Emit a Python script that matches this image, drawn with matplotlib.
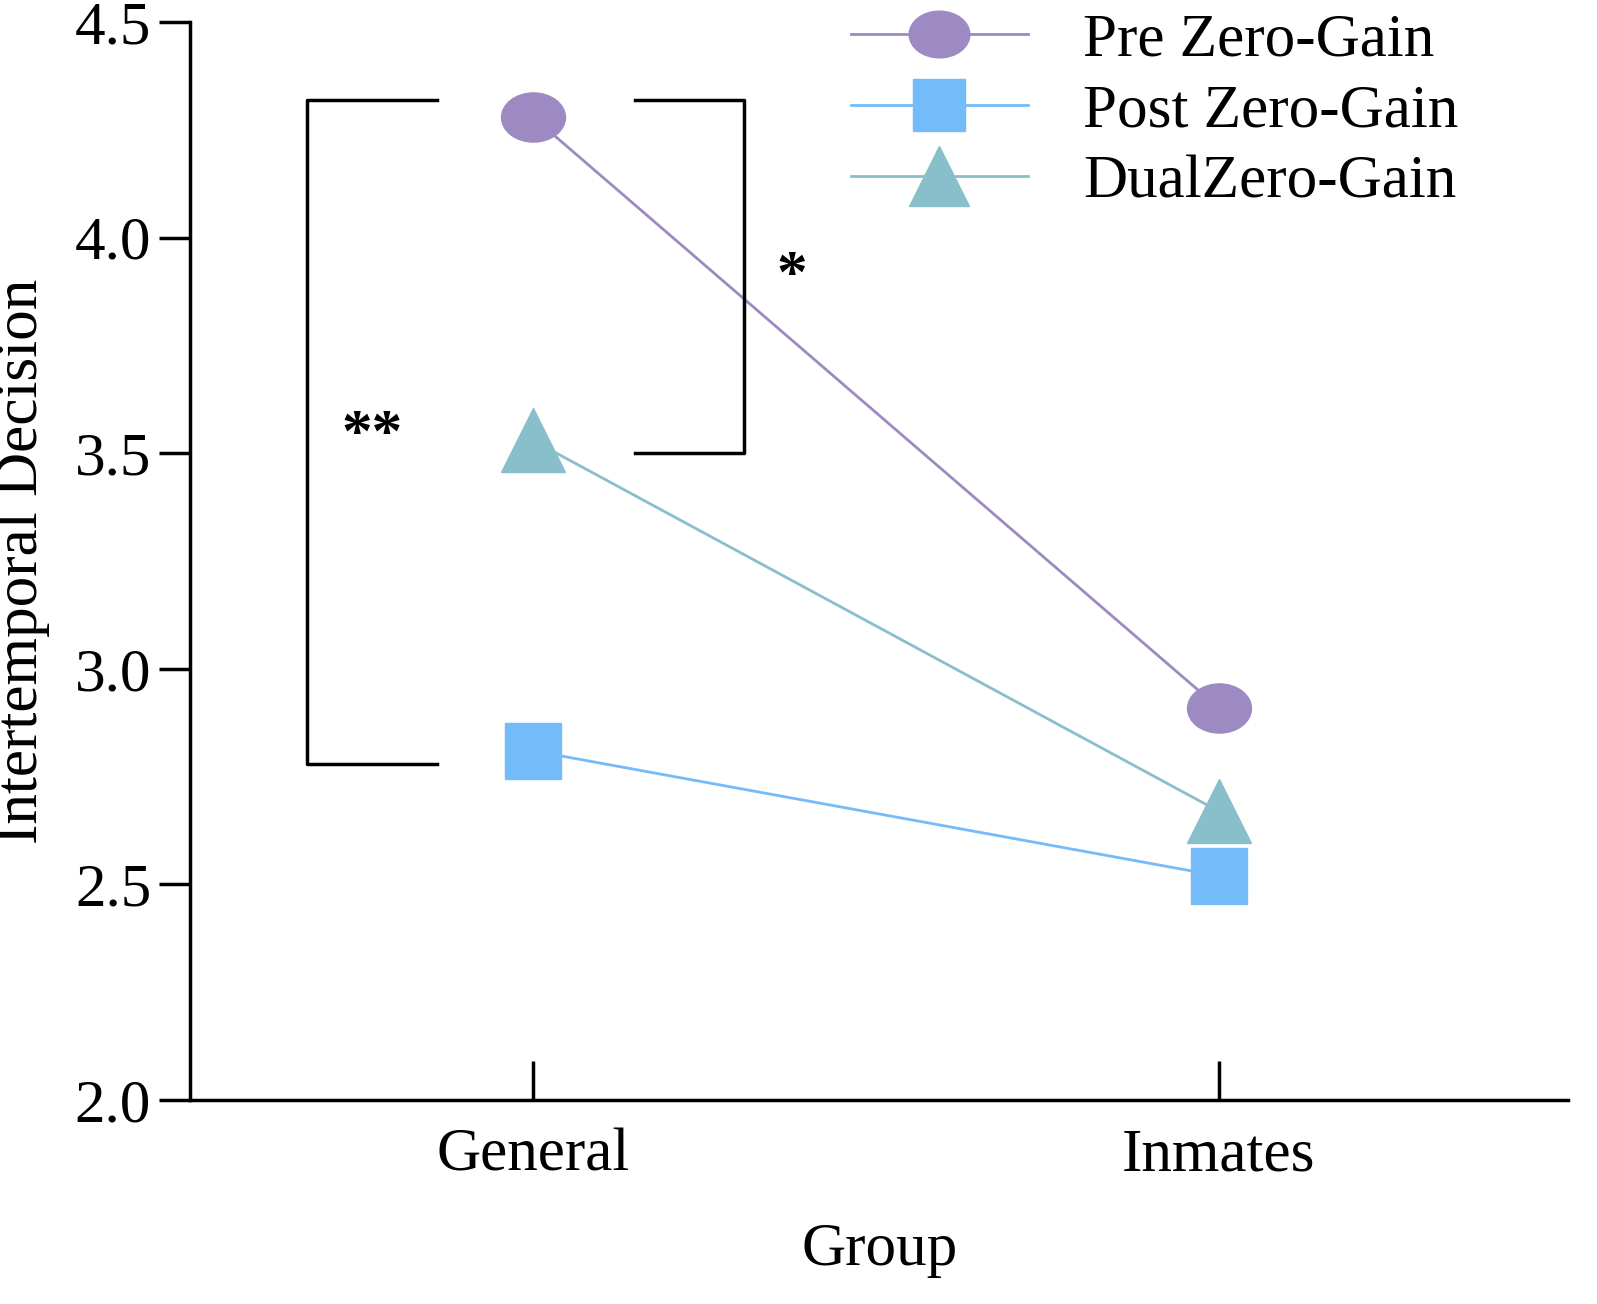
import matplotlib
matplotlib.use("Agg")
import matplotlib.pyplot as plt
from matplotlib.path import Path
from matplotlib.transforms import Affine2D

groups = ["General", "Inmates"]
pre_zero = [4.28, 2.91]
post_zero = [2.81, 2.52]
dual_zero = [3.53, 2.67]

plt.rcParams['font.family'] = ['Liberation Serif', 'DejaVu Serif']

# slightly flattened circle, like the reference markers
ellipse = Path.unit_circle().transformed(Affine2D().scale(1.3, 1.0))

fig = plt.figure(figsize=(15.97, 13.04), dpi=100)
ax = fig.add_axes([0.119, 0.1564, 0.863, 0.8266])

x = [0, 1]
ax.plot(x, pre_zero, color='#9E8AC2', lw=2, marker=ellipse, ms=46, label='Pre Zero-Gain')
ax.plot(x, post_zero, color='#74BBF9', lw=2, marker='s', ms=40, label='Post Zero-Gain')
ax.plot(x, dual_zero, color='#88BFCB', lw=2, marker='^', ms=46, label='DualZero-Gain')

# significance brackets
ax.plot([-0.14, -0.33, -0.33, -0.14], [4.32, 4.32, 2.78, 2.78], color='black', lw=2.5)
ax.plot([0.149, 0.308, 0.308, 0.149], [4.32, 4.32, 3.50, 3.50], color='black', lw=2.5)
ax.text(-0.235, 3.54, '**', fontsize=44, ha='center', va='center', fontweight='bold')
ax.text(0.378, 3.91, '*', fontsize=44, ha='center', va='center', fontweight='bold')

ax.set_xlim(-0.5, 1.51)
ax.set_ylim(2.0, 4.5)
ax.set_yticks([2.0, 2.5, 3.0, 3.5, 4.0, 4.5])
ax.set_yticklabels(['2.0', '2.5', '3.0', '3.5', '4.0', '4.5'])
ax.set_xticks(x)
ax.set_xticklabels(groups)
ax.tick_params(axis='y', direction='out', length=22, width=2.5, labelsize=44, pad=6)
ax.tick_params(axis='x', direction='in', length=28, width=2.5, labelsize=44, pad=20)
for s in ['top', 'right']:
    ax.spines[s].set_visible(False)
for s in ['left', 'bottom']:
    ax.spines[s].set_linewidth(2.5)

ax.set_xlabel('Group', fontsize=44, labelpad=28)
ax.set_ylabel('Intertemporal Decision', fontsize=44, labelpad=18)

ax.legend(loc='upper right', bbox_to_anchor=(0.96, 1.06), frameon=False, fontsize=44,
          handlelength=2.9, markerscale=0.95, labelspacing=0.25, handletextpad=0.9)

fig.savefig('out.png', dpi=100)
